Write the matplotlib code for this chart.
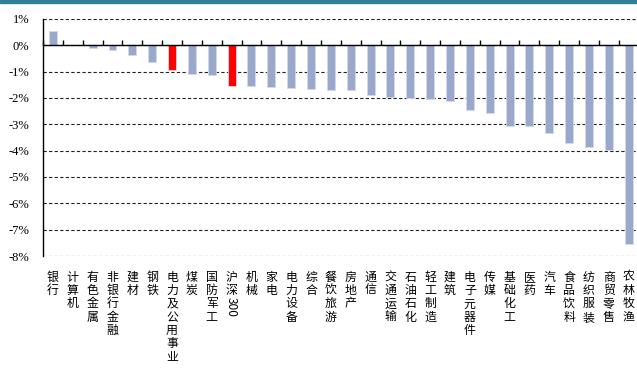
import numpy as np
import matplotlib.pyplot as plt
from matplotlib.patches import Rectangle

# weekly sector returns (%) vs the CSI 300 benchmark
sectors = ['银行', '计算机', '有色金属', '非银行金融', '建材', '钢铁', '电力及公用事业',
           '煤炭', '国防军工', '沪深300', '机械', '家电', '电力设备', '综合', '餐饮旅游',
           '房地产', '通信', '交通运输', '石油石化', '轻工制造', '建筑', '电子元器件',
           '传媒', '基础化工', '医药', '汽车', '食品饮料', '纺织服装', '商贸零售', '农林牧渔']
returns = [0.53, 0.0, -0.12, -0.18, -0.37, -0.63, -0.93,
           -1.08, -1.12, -1.55, -1.53, -1.57, -1.62, -1.67, -1.71,
           -1.71, -1.90, -1.96, -2.01, -2.06, -2.10, -2.44,
           -2.59, -3.08, -3.08, -3.32, -3.72, -3.86, -3.96, -7.54]
highlight = ['电力及公用事业', '沪深300']
yticks = [1, 0, -1, -2, -3, -4, -5, -6, -7, -8]

cjk = ['Noto Sans CJK SC', 'DejaVu Sans']

fig = plt.figure(figsize=(6.37, 3.69), dpi=100)
ax = fig.add_axes([0.0675, 0.306, 0.935, 0.643])

x = np.arange(len(sectors))
colors = ['#ff0000' if s in highlight else '#9aa8cc' for s in sectors]
ax.bar(x, returns, width=0.4, color=colors, edgecolor='#d3d9ec', linewidth=0.6, zorder=3)

ax.set_xlim(-0.5, len(sectors) - 0.5)
ax.set_ylim(-8, 1)
ax.set_yticks(yticks)
ax.set_yticklabels([f'{v}%' for v in yticks], family='Liberation Serif', fontsize=9)
ax.tick_params(axis='y', length=0, pad=10)

ax.yaxis.grid(True, color='#222222', linestyle=(0, (3, 2)), linewidth=0.8)
ax.set_axisbelow(True)

# category axis sits at zero, ticks between the categories
ax.spines['bottom'].set_position(('data', 0))
ax.spines['bottom'].set_zorder(4)
ax.set_xticks(np.arange(-0.5, len(sectors), 1))
ax.tick_params(axis='x', direction='in', length=3.6, width=1, labelbottom=False)
ax.spines['top'].set_visible(False)
ax.spines['right'].set_visible(False)
for sp in ('left', 'bottom'):
    ax.spines[sp].set_linewidth(1)


def put_char(i, k, s, **kw):
    # one character of a vertical label, k-th position from the top
    ax.annotate(s, xy=(i, 0), xycoords=('data', 'axes fraction'),
                xytext=(0, top - k * step), textcoords='offset points',
                ha='center', va='top', family=cjk, fontsize=8.6, **kw)


top = -10.5   # first character, points below the axes
step = 9.6    # distance between stacked characters, points
for i, name in enumerate(sectors):
    if name == '沪深300':
        put_char(i, 0, '沪')
        put_char(i, 1, '深')
        put_char(i, 2, '300', rotation=270)
    else:
        for k, ch in enumerate(name):
            put_char(i, k, ch)

fig.patches.append(Rectangle((0, 1 - 3 / 369), 1, 3 / 369, transform=fig.transFigure,
                             color='#2e8097'))

fig.savefig('out.png', dpi=100)
